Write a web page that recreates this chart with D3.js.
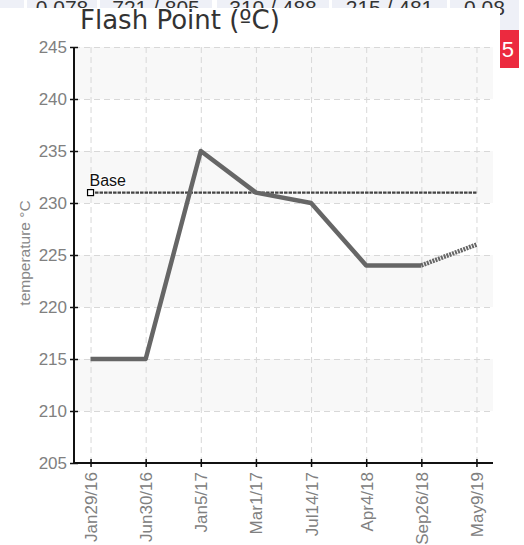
<!DOCTYPE html>
<html>
<head>
<meta charset="utf-8">
<script src="https://cdn.jsdelivr.net/npm/d3@7"></script>
<style>
  body { margin: 0; background: #fff; }
  svg { display: block; }
</style>
</head>
<body>
<div id="chart"></div>
<script>
// data
var dates = ["Jan29/16", "Jun30/16", "Jan5/17", "Mar1/17", "Jul14/17", "Apr4/18", "Sep26/18", "May9/19"];
var flashPoint = [215, 215, 235, 231, 230, 224, 224, 226];
var baseValues = [231, 231, 231, 231, 231, 231, 231, 231];
var yTicks = [205, 210, 215, 220, 225, 230, 235, 240, 245];

// page row peeking out behind the chart box
var rowTexts = ["", "0.078", "721 / 805", "310 / 488", "215 / 481", "0.08"];
var badgeText = "5";

var width = 524;
var height = 545;

// plot area (window.top is read-only, so other names)
var plotLeft = 74, plotRight = 493, plotTop = 47, plotBottom = 463;
var tickFont = "Liberation Sans, Arial, sans-serif";

var svg = d3.select("#chart")
  .append("svg")
  .attr("width", width)
  .attr("height", height);

// background table row
var cellEdges = [[0, 24], [27, 97], [100, 212], [217, 329], [332, 447], [450, 519]];
var bg = svg.append("g");
bg.selectAll("rect")
  .data(cellEdges)
  .enter()
  .append("rect")
  .attr("x", function(d) { return d[0]; })
  .attr("y", 0)
  .attr("width", function(d) { return d[1] - d[0]; })
  .attr("height", function(d, i) { return i === 5 ? 30 : 20; })
  .attr("fill", "#eef0f7");
bg.selectAll("text")
  .data(rowTexts)
  .enter()
  .append("text")
  .attr("x", function(d, i) { return (cellEdges[i][0] + cellEdges[i][1]) / 2; })
  .attr("y", 15)
  .attr("text-anchor", "middle")
  .attr("font-family", "Liberation Sans, Arial, sans-serif")
  .attr("font-size", 21)
  .attr("fill", "#333")
  .text(function(d) { return d; });
bg.append("rect")
  .attr("x", 490).attr("y", 30)
  .attr("width", 29).attr("height", 38)
  .attr("fill", "#ec2a3f");
bg.append("text")
  .attr("x", 514).attr("y", 57)
  .attr("text-anchor", "end")
  .attr("font-family", "Liberation Sans, Arial, sans-serif")
  .attr("font-size", 22)
  .attr("fill", "#fff")
  .text(badgeText);

// white chart box
svg.append("rect")
  .attr("x", 0).attr("y", 8)
  .attr("width", 500).attr("height", height - 8)
  .attr("fill", "#fff");

// title
svg.append("text")
  .attr("x", 80)
  .attr("y", 29)
  .attr("font-family", "DejaVu Sans, sans-serif")
  .attr("font-size", 26)
  .attr("fill", "#333")
  .text("Flash Point (ºC)");

// scales
var xScale = d3.scalePoint()
  .domain(dates)
  .range([plotLeft, plotRight])
  .padding(0.3);

var yScale = d3.scaleLinear()
  .domain([205, 245])
  .range([plotBottom, plotTop]);

// alternating bands
var bands = [];
for (var i = 0; i < yTicks.length - 1; i++) {
  if (i % 2 === 1) bands.push([yTicks[i], yTicks[i + 1]]);
}
svg.append("g")
  .selectAll("rect")
  .data(bands)
  .enter()
  .append("rect")
  .attr("x", plotLeft)
  .attr("y", function(d) { return yScale(d[1]); })
  .attr("width", plotRight - plotLeft)
  .attr("height", function(d) { return yScale(d[0]) - yScale(d[1]); })
  .attr("fill", "#f8f8f8");

// grid lines
var grid = svg.append("g")
  .attr("stroke", "#d8d8d8")
  .attr("stroke-width", 1)
  .attr("stroke-dasharray", "6,4");
grid.selectAll("line.h")
  .data(yTicks.slice(1))
  .enter()
  .append("line")
  .attr("class", "h")
  .attr("x1", plotLeft).attr("x2", plotRight)
  .attr("y1", function(d) { return yScale(d) + 0.5; })
  .attr("y2", function(d) { return yScale(d) + 0.5; });
grid.selectAll("line.v")
  .data(dates)
  .enter()
  .append("line")
  .attr("class", "v")
  .attr("x1", function(d) { return xScale(d) + 0.5; })
  .attr("x2", function(d) { return xScale(d) + 0.5; })
  .attr("y1", plotTop).attr("y2", plotBottom);

// axes
var xAxis = d3.axisBottom(xScale).tickSize(4).tickPadding(6);
var yAxis = d3.axisLeft(yScale).tickValues(yTicks).tickSize(4).tickPadding(4);

var gx = svg.append("g")
  .attr("transform", "translate(0," + plotBottom + ")")
  .call(xAxis);
var gy = svg.append("g")
  .attr("transform", "translate(" + plotLeft + ",0)")
  .call(yAxis);

[gx, gy].forEach(function(g) {
  g.select(".domain").attr("stroke", "#111").attr("stroke-width", 2);
  g.selectAll(".tick line").attr("stroke", "#111").attr("stroke-width", 1.5);
  g.selectAll(".tick text")
    .attr("font-family", tickFont)
    .attr("font-size", 17)
    .attr("fill", "#808080");
});
gx.select(".domain").attr("d", "M" + plotLeft + ",0H" + plotRight);
gy.select(".domain").attr("d", "M0," + plotTop + "V" + plotBottom);
gx.selectAll(".tick line").attr("y1", -4).attr("y2", 4);
gy.selectAll(".tick line").attr("x1", -4).attr("x2", 4);
gy.selectAll(".tick text").attr("x", -7);
gx.selectAll(".tick text")
  .attr("text-anchor", "end")
  .attr("dy", "0.35em")
  .attr("transform", "translate(0,9) rotate(-90)")
  .attr("x", 0)
  .attr("y", 0);

// y axis title
svg.append("text")
  .attr("transform", "translate(30,253) rotate(-90)")
  .attr("text-anchor", "middle")
  .attr("font-family", tickFont)
  .attr("font-size", 15.5)
  .attr("fill", "#888")
  .text("temperature °C");

var line = d3.line()
  .x(function(d) { return xScale(d.date); })
  .y(function(d) { return yScale(d.value); });

// base series
var baseData = dates.map(function(d, i) { return { date: d, value: baseValues[i] }; });
svg.append("path")
  .datum(baseData)
  .attr("d", line)
  .attr("fill", "none")
  .attr("stroke", "#444")
  .attr("stroke-width", 2.2)
  .attr("stroke-dasharray", "3.5,1");

// main series
var fpData = dates.map(function(d, i) { return { date: d, value: flashPoint[i] }; });
svg.append("path")
  .datum(fpData.slice(0, fpData.length - 1))
  .attr("d", line)
  .attr("fill", "none")
  .attr("stroke", "#666")
  .attr("stroke-width", 4.5)
  .attr("stroke-linejoin", "round");
svg.append("path")
  .datum(fpData.slice(fpData.length - 2))
  .attr("d", line)
  .attr("fill", "none")
  .attr("stroke", "#666")
  .attr("stroke-width", 4.5)
  .attr("stroke-dasharray", "2,1");

// base marker and label
svg.append("rect")
  .attr("x", xScale(dates[0]) - 3)
  .attr("y", yScale(baseValues[0]) - 3)
  .attr("width", 6).attr("height", 6)
  .attr("fill", "#fff")
  .attr("stroke", "#000")
  .attr("stroke-width", 1.2);
svg.append("text")
  .attr("x", xScale(dates[0]) - 1)
  .attr("y", yScale(baseValues[0]) - 7)
  .attr("font-family", tickFont)
  .attr("font-size", 16)
  .attr("fill", "#111")
  .attr("stroke", "#fff")
  .attr("stroke-width", 2)
  .attr("paint-order", "stroke")
  .text("Base");
</script>
</body>
</html>
